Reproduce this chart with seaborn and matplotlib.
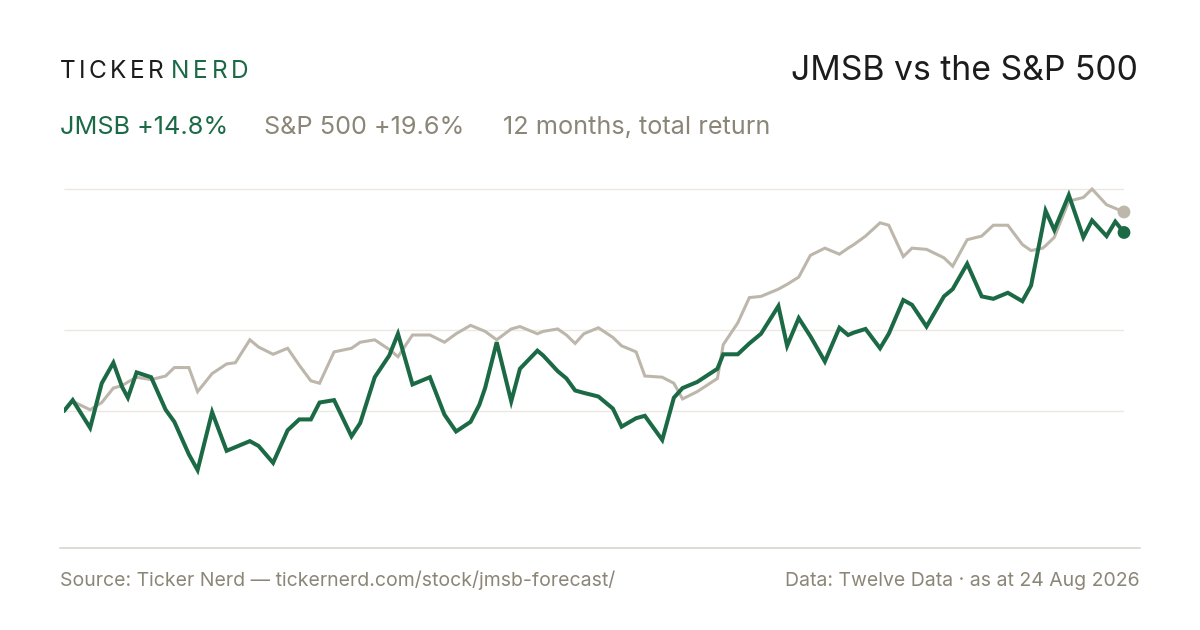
import pandas as pd
import seaborn as sns
import matplotlib.pyplot as plt
from matplotlib.lines import Line2D

# ======= data: 12 months total return (%) =======
start_date = "2025-08-24"
day_offsets = [0, 3, 9, 13, 17, 20, 22, 25, 30, 35, 38, 43, 46, 51, 56, 59, 64, 67, 72, 77,
               81, 85, 88, 93, 99, 102, 107, 112, 115, 120, 126, 131, 135, 140, 143, 145, 149, 154, 157, 163,
               165, 170, 173, 176, 179, 184, 189, 192, 197, 200, 206, 210, 213, 218, 225, 227, 232, 236, 240, 246,
               249, 253, 257, 262, 267, 270, 272, 276, 281, 284, 289, 292, 297, 303, 306, 311, 316, 320, 325, 330,
               333, 337, 338, 341, 346, 351, 354, 359, 362, 365]

jmsb_return = [0.0, 0.9, -1.4, 2.3, 4.0, 2.0, 1.1, 3.2, 2.8, 0.1, -0.9, -3.6, -4.9, -0.1, -3.3, -3.0, -2.5, -2.9, -4.3, -1.6,
               -0.7, -0.7, 0.7, 0.9, -2.1, -1.0, 2.8, 4.6, 6.4, 2.2, 2.8, -0.3, -1.7, -0.9, 0.5, 1.9, 5.7, 0.8, 3.5, 5.0,
               4.6, 3.3, 2.7, 1.7, 1.5, 1.2, 0.2, -1.3, -0.6, -0.4, -2.4, 1.1, 1.9, 2.4, 3.5, 4.7, 4.7, 5.6, 6.4, 8.7,
               5.4, 7.7, 6.2, 4.1, 6.9, 6.3, 6.5, 6.8, 5.2, 6.4, 9.2, 8.8, 7.0, 9.5, 10.1, 12.2, 9.5, 9.3, 9.8, 9.1,
               10.4, 15.3, 16.6, 15.0, 17.9, 14.4, 15.8, 14.5, 15.7, 14.8]

spx_return = [0.0, 0.8, 0.1, 0.7, 1.9, 2.1, 2.4, 2.8, 2.6, 2.9, 3.6, 3.6, 1.6, 3.1, 3.9, 4.0, 5.9, 5.3, 4.7, 5.2,
              3.8, 2.5, 2.3, 4.9, 5.2, 5.7, 5.9, 5.1, 4.5, 6.3, 6.3, 5.7, 6.4, 7.1, 6.8, 6.6, 5.9, 6.8, 7.0, 6.4,
              6.6, 6.8, 6.3, 5.6, 6.4, 6.9, 6.1, 5.4, 4.9, 2.9, 2.8, 2.3, 1.0, 1.6, 2.7, 5.5, 7.3, 9.4, 9.5, 10.1,
              10.5, 11.1, 12.9, 13.5, 13.0, 13.5, 13.8, 14.5, 15.6, 15.4, 12.8, 13.5, 13.4, 12.7, 12.0, 14.2, 14.5, 15.4, 15.4, 13.8,
              13.3, 13.5, 13.7, 14.4, 17.4, 17.7, 18.4, 17.1, 16.8, 16.5]

grid_levels = [0.0, 6.72, 18.41]
series_names = ["JMSB", "S&P 500"]
headline = ["JMSB +14.8%", "S&P 500 +19.6%", "12 months, total return"]
# ====================================================================

GREEN = "#1b6a45"
SAND = "#bdb7ab"
MUTED = "#8b8677"
INK = "#1c1c1c"

dates = pd.to_datetime(start_date) + pd.to_timedelta(day_offsets, unit="D")
df = pd.concat([
    pd.DataFrame({"date": dates, "ret": jmsb_return, "series": series_names[0]}),
    pd.DataFrame({"date": dates, "ret": spx_return, "series": series_names[1]}),
])
pal = {series_names[0]: GREEN, series_names[1]: SAND}

sns.set_theme(style="white")
plt.rcParams["font.family"] = ["Inter", "DejaVu Sans"]

W, H = 1200, 630
fig = plt.figure(figsize=(W / 100, H / 100), dpi=100)
fig.patch.set_facecolor("white")
ax = fig.add_axes([64 / W, 1 - 548 / H, (1124 - 64) / W, (548 - 180) / H])

ax.hlines(grid_levels, dates[0], dates[-1], color="#ebe8e2", lw=1.0, zorder=0)

# S&P first so JMSB sits on top
sns.lineplot(data=df[df.series == series_names[1]], x="date", y="ret", color=SAND,
             linewidth=2.2, ax=ax, estimator=None, sort=False)
sns.lineplot(data=df[df.series == series_names[0]], x="date", y="ret", color=GREEN,
             linewidth=2.9, ax=ax, estimator=None, sort=False)
for ln in ax.get_lines():
    ln.set_solid_joinstyle("miter")

last = df.groupby("series").tail(1)
sns.scatterplot(data=last, x="date", y="ret", hue="series", palette=pal,
                s=85, linewidth=0, legend=False, ax=ax, clip_on=False, zorder=5)

ax.set_xlim(dates[0], dates[-1])
ax.set_ylim(-11.36, 19.15)
ax.set_axis_off()

# bottom rule
fig.add_artist(Line2D([60 / W, 1140 / W], [1 - 548 / H, 1 - 548 / H],
                      color="#dedad1", lw=1.4, transform=fig.transFigure))


def px(x, y):
    return x / W, 1 - y / H


renderer = fig.canvas.get_renderer()


def tracked(x, y, s, track, **kw):
    # letter-spaced text, one glyph at a time
    for ch in s:
        t = fig.text(*px(x, y), ch, va="baseline", ha="left", **kw)
        x += t.get_window_extent(renderer).width + track


tracked(60, 78, "TICKER", 3.4, fontsize=17.6, color=INK)
tracked(171, 78, "NERD", 3.8, fontsize=17.6, color=GREEN)
fig.text(*px(1138, 80), "JMSB vs the S&P 500", fontsize=24.3, color=INK, va="baseline", ha="right")

fig.text(*px(60, 134), headline[0], fontsize=18.2, color=GREEN, va="baseline")
fig.text(*px(264, 134), headline[1], fontsize=18.2, color=MUTED, va="baseline")
fig.text(*px(503, 134), headline[2], fontsize=18.2, color=MUTED, va="baseline")

fig.text(*px(60, 586), "Source: Ticker Nerd \u2014 tickernerd.com/stock/jmsb-forecast/",
         fontsize=14, color=MUTED, va="baseline")
fig.text(*px(1140, 586), "Data: Twelve Data \u00b7 as at 24 Aug 2026",
         fontsize=14, color=MUTED, va="baseline", ha="right")

fig.savefig("out.png", dpi=100, facecolor="white")
